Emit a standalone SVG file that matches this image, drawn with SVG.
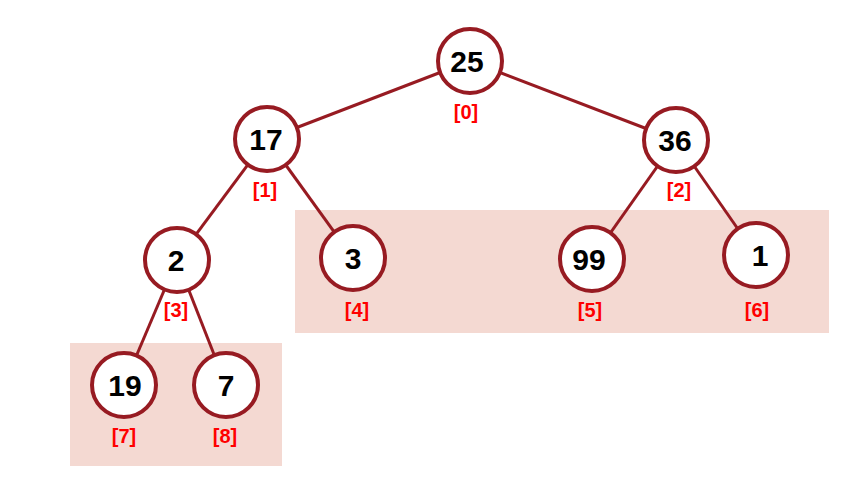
<svg xmlns="http://www.w3.org/2000/svg" width="861" height="481" viewBox="0 0 861 481">
<style>
.bg{fill:#F4D9D2}
.e{stroke:#971B22;stroke-width:3;fill:none}
.n circle{fill:#fff;stroke:#971B22;stroke-width:4}
.v{font-family:"Liberation Sans",Arial,sans-serif;font-weight:bold;font-size:30px;fill:#000;text-anchor:middle}
.i{font-family:"Liberation Sans",Arial,sans-serif;font-weight:bold;font-size:20px;fill:#FF0000;text-anchor:middle}
</style>
<rect width="861" height="481" fill="#fff"/>
<rect class="bg" x="295" y="210" width="534" height="123"/>
<rect class="bg" x="70" y="343" width="212" height="123"/>
<g id="connectors">
<line class="e" x1="470" y1="61" x2="267" y2="139"/>
<line class="e" x1="470" y1="61" x2="676" y2="140"/>
<line class="e" x1="267" y1="139" x2="177" y2="260"/>
<line class="e" x1="267" y1="139" x2="353" y2="258"/>
<line class="e" x1="676" y1="140" x2="592" y2="259"/>
<line class="e" x1="676" y1="140" x2="756" y2="255"/>
<line class="e" x1="177" y1="260" x2="124" y2="385"/>
<line class="e" x1="177" y1="260" x2="226" y2="385"/>
</g>
<g id="n0" class="n"><circle cx="470" cy="61" r="32"/><text class="v" x="467" y="72">25</text><text class="i" x="466" y="119">[0]</text></g>
<g id="n1" class="n"><circle cx="267" cy="139" r="32"/><text class="v" x="266" y="150">17</text><text class="i" x="265" y="197">[1]</text></g>
<g id="n2" class="n"><circle cx="676" cy="140" r="32"/><text class="v" x="675" y="151">36</text><text class="i" x="679" y="197">[2]</text></g>
<g id="n3" class="n"><circle cx="177" cy="260" r="32"/><text class="v" x="176" y="271">2</text><text class="i" x="176" y="317">[3]</text></g>
<g id="n4" class="n"><circle cx="353" cy="258" r="32"/><text class="v" x="353" y="269">3</text><text class="i" x="357" y="317">[4]</text></g>
<g id="n5" class="n"><circle cx="592" cy="259" r="32"/><text class="v" x="589" y="270">99</text><text class="i" x="590" y="317">[5]</text></g>
<g id="n6" class="n"><circle cx="756" cy="255" r="32"/><text class="v" x="760" y="266">1</text><text class="i" x="757" y="317">[6]</text></g>
<g id="n7" class="n"><circle cx="124" cy="385" r="32"/><text class="v" x="125" y="396">19</text><text class="i" x="124" y="443">[7]</text></g>
<g id="n8" class="n"><circle cx="226" cy="385" r="32"/><text class="v" x="226" y="396">7</text><text class="i" x="225" y="443">[8]</text></g>
</svg>
